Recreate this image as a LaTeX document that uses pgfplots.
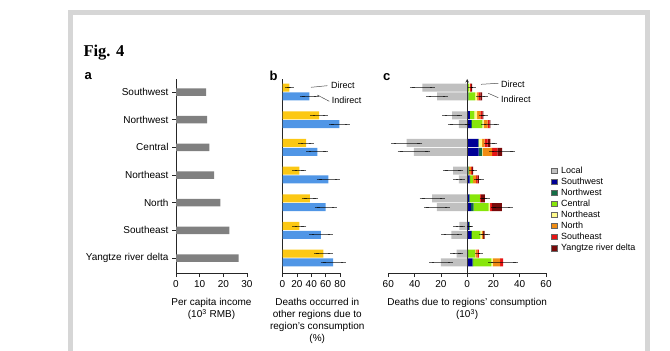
\documentclass[border=0pt]{standalone}
\usepackage{pgfplots}
\pgfplotsset{compat=1.18}
\usepackage{pgfplotstable}
\usepackage{fontspec}
\setmainfont{Liberation Sans}
\newfontfamily\figfont{Liberation Serif}
\definecolor{framegray}{RGB}{214,214,214}
\definecolor{incgray}{RGB}{128,128,128}
\definecolor{dirY}{RGB}{252,200,20}
\definecolor{indB}{RGB}{80,150,230}
\definecolor{locgray}{RGB}{192,192,192}
\definecolor{cSW}{RGB}{0,0,150}
\definecolor{cNW}{RGB}{20,110,70}
\definecolor{cC}{RGB}{135,230,10}
\definecolor{cNE}{RGB}{255,250,140}
\definecolor{cN}{RGB}{240,140,20}
\definecolor{cSE}{RGB}{230,20,20}
\definecolor{cY}{RGB}{120,10,10}

% Panel a: per capita income (10^3 RMB)
\pgfplotstableread{
y inc
6 12.7
5 13.2
4 14.1
3 16.1
2 18.7
1 22.5
0 26.5
}\incomeT

% Panel b: direct
\pgfplotstableread{
y val err
6.16 9.5 2.8
5.16 50.8 9
4.16 32.7 7
3.16 23.4 6.3
2.16 38.2 8
1.16 23.4 6.5
0.16 56.7 9.7
}\directT

% Panel b: indirect
\pgfplotstableread{
y val err
5.84 37.3 9.7
4.84 79 11
3.84 48.4 11.6
2.84 63.7 12.8
1.84 60 11.8
0.84 53.5 13
-0.16 70.6 14
}\indirectT

% Panel c: local (negative) and contributions by region
\pgfplotstableread{
y loc lerr sw nw c ne n se yrd tot terr
6.16 -34 7.6 0 0 1.5 0.3 0.5 0.5 1.0 3.8 1
5.84 -22.8 6.3 0 1.0 5.0 1.5 1.0 1.5 1.4 11.4 2.5
5.16 -11.4 5.8 2 0 3.5 2 2.5 1.5 0.9 12.4 1.5
4.84 -6.3 6.4 3 0.5 8 1 3 1.5 0.7 17.7 5
4.16 -46 10 8.3 0.5 0 2.5 2 2.2 2.2 17.7 3.3
3.84 -40.5 10.5 8.8 2.5 0 0.5 7.2 4 3.6 26.6 8
3.16 -10.6 5.9 0.7 0.3 0.5 0 1.5 0.8 0.7 4.5 1
2.84 -6.3 2.5 1.8 0.5 2 0 2.5 1.2 0.9 8.9 1.8
2.16 -26.6 7.6 1.5 0.3 7.8 0.3 0 0.5 3 13.4 2
1.84 -23 8 3 2 11.4 1 0 1.5 7.5 26.4 6.5
1.16 -6 2.5 1.5 0.2 0.3 0 0 0 0 2.0 0.5
0.84 -12 6 3 0.5 6.5 1 1.2 0 1 13.2 2.5
0.16 -8 3 0.5 0.3 5 0.5 1.5 1.1 0 8.9 1
-0.16 -20 7 4 0.5 14 1 5.5 2.3 0 27.3 9.5
}\cT

\pgfplotsset{
  panel/.style={
    scale only axis, height=194bp, ymin=-0.54, ymax=6.47,
    axis x line=bottom, axis y line=left,
    axis line style={-, line width=0.6bp, black!85},
    every inner y axis line/.append style={-},
    every outer y axis line/.append style={-},
    every outer x axis line/.append style={-},
    tick align=outside, major tick length=4bp,
    tick style={line width=0.6bp, black!85},
    ticklabel style={font=\fontsize{10bp}{12bp}\selectfont},
    xlabel style={font=\fontsize{10bp}{12bp}\selectfont, align=center, yshift=-4bp},
    clip=false,
  },
  errbar/.style={draw=none, mark=none,
    error bars/x dir=both, error bars/x explicit,
    error bars/error bar style={draw=black, opacity=0.6, line width=0.7bp},
    error bars/error mark options={draw=black, opacity=0.6, line width=0.7bp, mark size=2.5bp}},
}

\begin{document}
\begin{tikzpicture}
\useasboundingbox (0,0) rectangle (670bp,351bp);
% frame
\fill[framegray] (68bp,341bp) rectangle (650bp,336bp);
\fill[framegray] (68bp,341bp) rectangle (73bp,0bp);
\fill[framegray] (645bp,341bp) rectangle (650bp,0bp);
% title
\node[anchor=base west, inner sep=0pt, font={\fontsize{16.5bp}{18bp}\selectfont\figfont\bfseries}] at (83.3bp,294bp) {Fig. 4};
% panel letters
\node[inner sep=0pt, font={\fontsize{13bp}{13bp}\selectfont\bfseries}] at (88.3bp,274.7bp) {a};
\node[inner sep=0pt, font={\fontsize{13bp}{13bp}\selectfont\bfseries}] at (273.5bp,274.7bp) {b};
\node[inner sep=0pt, font={\fontsize{13bp}{13bp}\selectfont\bfseries}] at (386.7bp,274.3bp) {c};

% ---------- panel a ----------
\begin{axis}[panel, at={(176bp,78bp)}, anchor=south west, width=71bp,
  xmin=0, xmax=30, xtick={0,10,20,30}, xticklabels={0,10,20,30},
  ytick={0,1,2,3,4,5,6},
  yticklabels={Yangtze river delta,Southeast,North,Northeast,Central,Northwest,Southwest},
  xlabel={Per capita income\\(10\textsuperscript{3} RMB)}]
\addplot[xbar, bar width=7.5bp, bar shift=0pt, fill=incgray, draw=none] table[x=inc,y=y]{\incomeT};
\end{axis}

% ---------- panel b ----------
\begin{axis}[panel, at={(282.5bp,78bp)}, anchor=south west, width=57.5bp,
  xmin=0, xmax=80, xtick={0,20,40,60,80}, xticklabels={0,20,40,60,80},
  ytick=\empty,
  xlabel={Deaths occurred in\\other regions due to\\region's consumption\\(\%)},
  xlabel style={xshift=6bp}]
\addplot[xbar, bar width=8bp, bar shift=0pt, fill=dirY, draw=none] table[x=val,y=y]{\directT};
\addplot[xbar, bar width=8bp, bar shift=0pt, fill=indB, draw=none] table[x=val,y=y]{\indirectT};
\addplot[errbar] table[x=val,y=y,x error=err]{\directT};
\addplot[errbar] table[x=val,y=y,x error=err]{\indirectT};
\end{axis}
\draw[line width=0.5bp, black!70] (311bp,263.7bp) -- (327.3bp,265.3bp);
\node[anchor=west, inner sep=0pt, font={\fontsize{9bp}{9bp}\selectfont}] at (331bp,265.3bp) {Direct};
\draw[line width=0.5bp, black!70] (317.3bp,256bp) -- (329.3bp,249.7bp);
\node[anchor=west, inner sep=0pt, font={\fontsize{9bp}{9bp}\selectfont}] at (331.7bp,250.3bp) {Indirect};

% ---------- panel c: stacked positive contributions ----------
\begin{axis}[panel, hide axis, at={(388.3bp,78bp)}, anchor=south west, width=157.7bp,
  xmin=-60, xmax=60, xbar stacked, bar width=8bp, bar shift=0pt]
\addplot[fill=cSW, draw=none] table[x=sw,y=y]{\cT};
\addplot[fill=cNW, draw=none] table[x=nw,y=y]{\cT};
\addplot[fill=cC, draw=none] table[x=c,y=y]{\cT};
\addplot[fill=cNE, draw=none] table[x=ne,y=y]{\cT};
\addplot[fill=cN, draw=none] table[x=n,y=y]{\cT};
\addplot[fill=cSE, draw=none] table[x=se,y=y]{\cT};
\addplot[fill=cY, draw=none] table[x=yrd,y=y]{\cT};
\end{axis}

% ---------- panel c: local, error bars, axes, legend ----------
\begin{axis}[panel, at={(388.3bp,78bp)}, anchor=south west, width=157.7bp,
  axis y line=center,
  xmin=-60, xmax=60, xtick={-60,-40,-20,0,20,40,60},
  xticklabels={60,40,20,0,20,40,60},
  ytick=\empty,
  xlabel={Deaths due to regions' consumption\\(10\textsuperscript{3})},
  legend image code/.code={\draw[#1, draw=black!60, line width=0.5bp] (0bp,-2.8bp) rectangle (5.6bp,2.8bp);},
  legend cell align=left,
  legend style={at={(1.03,0.552)}, anchor=north west, draw=none, fill=none,
    inner sep=0pt, row sep=2.05bp, column sep=4bp,
    font=\fontsize{9bp}{9bp}\selectfont,
    nodes={inner sep=0pt, text height=7bp, text depth=2bp, anchor=west}}]
\addplot[xbar, bar width=8bp, bar shift=0pt, fill=locgray, draw=none, forget plot] table[x=loc,y=y]{\cT};
\addplot[errbar, forget plot] table[x=loc,y=y,x error=lerr]{\cT};
\addplot[errbar, forget plot] table[x=tot,y=y,x error=terr]{\cT};
\addlegendimage{fill=locgray}\addlegendentry{Local}
\addlegendimage{fill=cSW}\addlegendentry{Southwest}
\addlegendimage{fill=cNW}\addlegendentry{Northwest}
\addlegendimage{fill=cC}\addlegendentry{Central}
\addlegendimage{fill=cNE}\addlegendentry{Northeast}
\addlegendimage{fill=cN}\addlegendentry{North}
\addlegendimage{fill=cSE}\addlegendentry{Southeast}
\addlegendimage{fill=cY}\addlegendentry{Yangtze river delta}
\end{axis}
\draw[line width=0.5bp, black!70] (481bp,266.7bp) -- (498.3bp,267.7bp);
\node[anchor=west, inner sep=0pt, font={\fontsize{9bp}{9bp}\selectfont}] at (501bp,266.7bp) {Direct};
\draw[line width=0.5bp, black!70] (488.3bp,257.7bp) -- (498.3bp,253.3bp);
\node[anchor=west, inner sep=0pt, font={\fontsize{9bp}{9bp}\selectfont}] at (501bp,252bp) {Indirect};
\end{tikzpicture}
\end{document}
